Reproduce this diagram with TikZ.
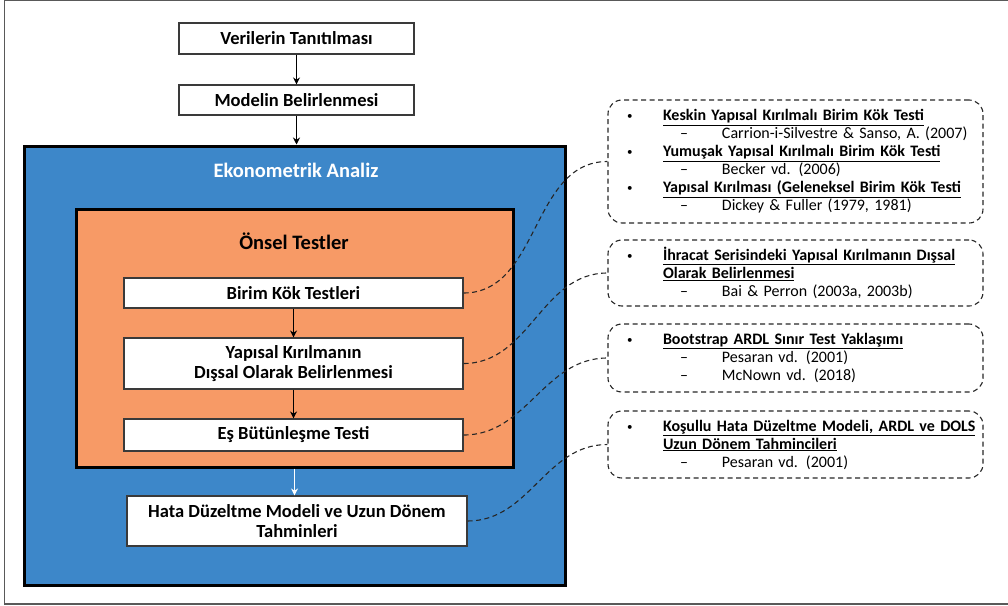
\documentclass[tikz,border=0pt]{standalone}
\usepackage{fontspec}
\setmainfont{Carlito}
\usetikzlibrary{arrows.meta}

\definecolor{analysisblue}{HTML}{3D87C9}
\definecolor{testorange}{HTML}{F79A66}
\definecolor{boxedge}{HTML}{3A3A3A}

% lines inside the dashed side notes
\newcommand\smallbullet{\raisebox{1pt}{\fontsize{11}{11}\selectfont\textbullet}}
\newcommand\hd[1]{\mbox{\makebox[36pt][l]{\smallbullet}\underline{\textbf{#1}}}}
\newcommand\hdc[1]{\mbox{\hspace*{36pt}\underline{\textbf{#1}}}}
\newcommand\rf[1]{\mbox{\hspace*{53pt}\makebox[42pt][l]{\textendash}#1}}

\begin{document}
\begin{tikzpicture}[x=1pt,y=-1pt,
  stepbox/.style={draw=boxedge, line width=1.1pt, fill=white, inner sep=0pt,
    align=center, font=\bfseries\fontsize{18.5}{20}\selectfont},
  frame/.style={draw=black, line width=3pt, inner sep=0pt},
  note/.style={draw=black!85, line width=1.1pt, dash pattern=on 5pt off 3.5pt,
    rounded corners=14pt, minimum width=375pt, text width=337pt, inner xsep=19pt,
    inner ysep=0pt, align=left, font=\fontsize{16}{18}\selectfont},
  link/.style={draw=black!85, line width=1.1pt, dash pattern=on 5pt off 3.5pt},
  flow/.style={-{Stealth[length=7pt,width=7pt]}, line width=0.9pt},
]
\useasboundingbox (0,0) rectangle (1008,605);
\clip (0,0) rectangle (1008,605);

% page frame (its right side lies outside the page)
\draw[draw=black!65, line width=1.2pt] (4.5,0.8) rectangle (1020,604);

% top steps
\node[stepbox, minimum width=235pt, minimum height=31pt] (data) at (296.5,38.5) {Verilerin Tanıtılması};
\node[stepbox, minimum width=235pt, minimum height=30pt] (model) at (296.5,100) {Modelin Belirlenmesi};

% econometric analysis frame
\node[frame, fill=analysisblue, minimum width=541pt, minimum height=439pt] (analysis) at (294.5,365.5) {};
\node[text=white, font=\bfseries\fontsize{20.5}{22}\selectfont] (analysistitle) at (296,170) {Ekonometrik Analiz};

% preliminary tests frame
\node[frame, fill=testorange, minimum width=437pt, minimum height=258pt] (prior) at (294.5,338) {};
\node[font=\bfseries\fontsize{20.5}{22}\selectfont] (priortitle) at (294,241) {Önsel Testler};

\node[stepbox, minimum width=339pt, minimum height=30pt] (unitroot) at (293.5,293) {Birim Kök Testleri};
\node[stepbox, minimum width=339pt, minimum height=51pt] (break) at (293.5,363.5) {Yapısal Kırılmanın\\Dışsal Olarak Belirlenmesi};
\node[stepbox, minimum width=339pt, minimum height=32pt] (coint) at (293.5,435) {Eş Bütünleşme Testi};

\node[stepbox, minimum width=340pt, minimum height=50pt] (ecm) at (297,521) {Hata Düzeltme Modeli ve Uzun Dönem\\Tahminleri};

% flow arrows
\draw[flow] (data.south) -- (model.north);
\draw[flow] (model.south) -- (model.south |- analysis.north);
\draw[flow] (unitroot.south) -- (break.north);
\draw[flow] (break.south) -- (coint.north);
\draw[flow, white] (prior.south) -- (prior.south |- ecm.north);

% side notes
\node[note, minimum height=123pt] (n1) at (795.5,161.5) {%
\hd{Keskin Yapısal Kırılmalı Birim Kök Testi}\\
\rf{Carrion-i-Silvestre \& Sanso, A. (2007)}\\
\hd{Yumuşak Yapısal Kırılmalı Birim Kök Testi}\\
\rf{Becker vd. (2006)}\\
\hd{Yapısal Kırılması (Geleneksel Birim Kök Testi}\\
\rf{Dickey \& Fuller (1979, 1981)}};

\node[note, minimum height=66pt] (n2) at (795.5,273) {%
\hd{İhracat Serisindeki Yapısal Kırılmanın Dışsal}\\
\hdc{Olarak Belirlenmesi}\\
\rf{Bai \& Perron (2003a, 2003b)}};

\node[note, minimum height=68pt] (n3) at (795.5,358) {%
\hd{Bootstrap ARDL Sınır Test Yaklaşımı}\\
\rf{Pesaran vd. (2001)}\\
\rf{McNown vd. (2018)}};

\node[note, minimum height=67pt] (n4) at (795.5,444.5) {%
\hd{Koşullu Hata Düzeltme Modeli, ARDL ve DOLS}\\
\hdc{Uzun Dönem Tahmincileri}\\
\rf{Pesaran vd. (2001)}};

% links from steps to notes
\draw[link] (unitroot.east) to[out=0, in=180] (n1.west);
\draw[link] (break.east) to[out=0, in=180] (n2.west);
\draw[link] (coint.east) to[out=0, in=180] (n3.west);
\draw[link] (ecm.east) to[out=0, in=180] (n4.west);
\end{tikzpicture}
\end{document}
